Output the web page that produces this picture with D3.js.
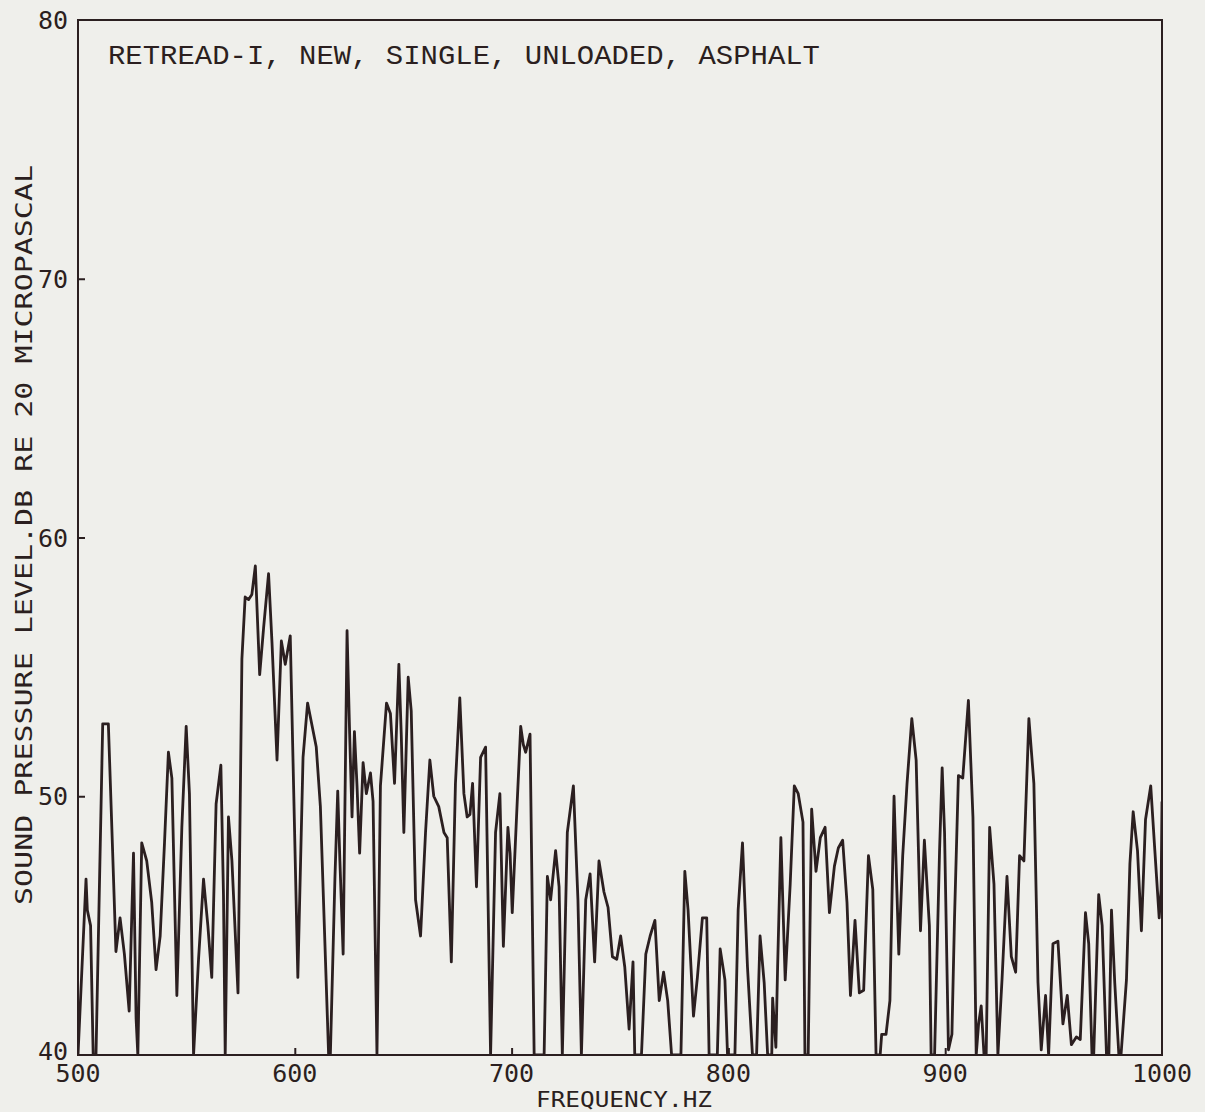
<!DOCTYPE html>
<html>
<head>
<meta charset="utf-8">
<script src="https://cdn.jsdelivr.net/npm/d3@7"></script>
<style>
  body { margin: 0; background: #efefeb; }
  svg { display: block; }
</style>
</head>
<body>
<script>
// spectrum trace
const freq = [500, 503.7, 504.3, 505.8, 507, 508.3, 511.4, 514, 515.6, 517.5, 519.4, 521.4, 523.6, 525.6, 526.8, 527.6,
  529.4, 531.7, 534, 536, 537.9, 539.9, 541.7, 543.3, 545.6, 547.9, 549.9, 551.4, 553.3, 555.6, 557.9, 559.9,
  561.7, 563.7, 565.9, 567.1, 567.9, 569.4, 571, 573.8, 575.6, 577.1, 578.7, 580.2, 581.8, 583.8, 585.6, 587.9,
  589.5, 591.8, 593.8, 595.6, 597.9, 601.4, 603.8, 605.9, 609.9, 611.8, 615.6, 616.4, 618.5, 619.8, 620.8, 622.3,
  624.1, 625.3, 626.4, 627.5, 628.7, 629.9, 631.5, 633, 634.9, 636.1, 637.9, 639.5, 642.3, 644.1, 646, 648,
  649.1, 650.3, 652.3, 653.7, 655.7, 658, 660.3, 662.3, 664.1, 666.4, 668.8, 670.3, 672.2, 674.1, 676.1, 678,
  679.5, 680.8, 682, 682.6, 683.8, 685.7, 688, 690.3, 692.6, 694.6, 696.2, 698.3, 699.3, 700.3, 702.6, 704.2,
  705.4, 706.5, 708.5, 710.4, 715, 716.5, 718, 720.3, 721.9, 723.4, 725.7, 728.5, 730.6, 732.2, 734.2, 736.2,
  738.3, 740.3, 742.6, 744.5, 746.5, 748.5, 750.3, 752.2, 754.2, 756, 756.8, 759.9, 761.9, 763.9, 766.1, 768.1,
  770.1, 772, 773.8, 778.1, 779.9, 781.4, 783.9, 785.7, 788, 790, 791.1, 794.9, 796.2, 798.4, 799.6, 803,
  804.5, 806.5, 807.6, 808.8, 811.1, 813, 814.6, 816.5, 818.1, 820, 820.4, 821.9, 822.7, 824.2, 826.2, 828.5,
  830.4, 832.2, 834.4, 835.3, 836.8, 838.4, 840.4, 842.4, 844.6, 846.6, 848.9, 850.7, 852.7, 854.7, 856.3, 858.4,
  860.4, 862.4, 864.6, 866.6, 868.1, 870, 870.7, 872.7, 874.5, 876.4, 878.6, 880.4, 882.4, 884.6, 886.6, 888.6,
  890.4, 892.7, 893.5, 895.1, 897.4, 898.6, 899.7, 901.5, 903.1, 904.3, 906.1, 908.1, 910.7, 912.8, 914.3, 915.4,
  916.6, 917.9, 918.9, 920.5, 922.5, 924.3, 926.2, 928.5, 930.5, 932.5, 934.3, 936.3, 938.6, 940.9, 942.8, 944.3,
  946.3, 947.7, 949.7, 952, 954.3, 956.3, 958.2, 960.5, 962.3, 964.7, 966.2, 967.7, 968.5, 970.8, 972.4, 974.4,
  975.5, 976.7, 978.2, 980.1, 981.1, 983.6, 985.2, 986.7, 988.7, 990.5, 992.4, 994.8, 996.7, 998.7, 999.6, 1000];
const level = [40, 46.8, 45.6, 45, 40, 40, 52.8, 52.8, 48.8, 44.0, 45.3, 43.9, 41.7, 47.8, 41.4, 40,
  48.2, 47.5, 45.9, 43.3, 44.6, 48.2, 51.7, 50.7, 42.3, 48.8, 52.7, 50.1, 40, 43.7, 46.8, 45,
  43, 49.7, 51.2, 46.2, 40, 49.2, 47.5, 42.4, 55.3, 57.7, 57.6, 57.8, 58.9, 54.7, 56.5, 58.6,
  55.9, 51.4, 56.0, 55.1, 56.2, 43.0, 51.5, 53.6, 51.9, 49.6, 40, 40, 46.8, 50.2, 47.5, 43.9,
  56.4, 52.4, 49.2, 52.5, 50.4, 47.8, 51.3, 50.1, 50.9, 49.8, 40, 50.4, 53.6, 53.2, 50.5, 55.1,
  52.4, 48.6, 54.6, 53.3, 46, 44.6, 48.6, 51.4, 50, 49.6, 48.6, 48.4, 43.6, 50.5, 53.8, 50.1,
  49.2, 49.3, 50.5, 49.2, 46.5, 51.5, 51.9, 40, 48.6, 50.1, 44.2, 48.8, 47.8, 45.5, 49.8, 52.7,
  52.0, 51.7, 52.4, 40, 40, 46.9, 46, 47.9, 46.5, 40, 48.6, 50.4, 46, 40, 46, 47,
  43.6, 47.5, 46.3, 45.7, 43.8, 43.7, 44.6, 43.4, 41, 43.6, 40, 40, 43.9, 44.6, 45.2, 42.1,
  43.2, 42.1, 40, 40, 47.1, 45.6, 41.5, 43.0, 45.3, 45.3, 40, 40, 44.1, 42.9, 40, 40,
  45.6, 48.2, 45.9, 43.4, 40, 40, 44.6, 42.8, 40, 40, 42.2, 40.3, 43.4, 48.4, 42.9, 46.6,
  50.4, 50.1, 49, 40, 40, 49.5, 47.1, 48.4, 48.8, 45.5, 47.3, 48, 48.3, 45.9, 42.3, 45.2,
  42.4, 42.5, 47.7, 46.4, 40, 40, 40.8, 40.8, 42.1, 50, 43.9, 47.7, 50.5, 53.0, 51.4, 44.8,
  48.3, 45, 40, 40, 47.9, 51.1, 48.6, 40.2, 40.8, 45.3, 50.8, 50.7, 53.7, 49.2, 40, 41.2,
  41.9, 40, 40, 48.8, 46.6, 40, 42.9, 46.9, 43.8, 43.2, 47.7, 47.5, 53, 50.5, 42.8, 40.2,
  42.3, 40, 44.3, 44.4, 41.2, 42.3, 40.4, 40.7, 40.6, 45.5, 44.3, 40, 40, 46.2, 45, 40,
  40, 45.6, 42.8, 40, 40, 42.9, 47.4, 49.4, 47.9, 44.8, 49.1, 50.4, 47.9, 45.3, 46.4, 49.8];

const xTicks = [500, 600, 700, 800, 900, 1000];
const yTicks = [40, 50, 60, 70, 80];
const title = "RETREAD-I, NEW, SINGLE, UNLOADED, ASPHALT";
const xTitle = "FREQUENCY.HZ";
const yTitle = "SOUND PRESSURE LEVEL.DB RE 20 MICROPASCAL";

var width = 1205, height = 1112;
var plotL = 78, plotR = 1162, plotT = 20, plotB = 1055;
var ink = "#2b1f20";

var svg = d3.select("body").append("svg")
  .attr("width", width)
  .attr("height", height);

var x = d3.scaleLinear().domain([500, 1000]).range([plotL, plotR]);
var y = d3.scaleLinear().domain([40, 80]).range([plotB, plotT]);

svg.append("defs").append("clipPath").attr("id", "plot")
  .append("rect").attr("x", plotL).attr("y", plotT)
  .attr("width", plotR - plotL).attr("height", plotB - plotT);

// the trace
svg.append("path")
  .datum(d3.zip(freq, level))
  .attr("clip-path", "url(#plot)")
  .attr("fill", "none")
  .attr("stroke", ink)
  .attr("stroke-width", 2.8)
  .attr("stroke-linejoin", "round")
  .attr("d", d3.line().x(d => x(d[0])).y(d => y(d[1])));

// frame
svg.append("rect")
  .attr("x", plotL).attr("y", plotT)
  .attr("width", plotR - plotL).attr("height", plotB - plotT)
  .attr("fill", "none").attr("stroke", ink).attr("stroke-width", 2);

// inward ticks, labels placed by hand below
svg.append("g")
  .attr("transform", `translate(0,${plotB})`)
  .call(d3.axisTop(x).tickValues(xTicks.slice(1, -1)).tickSize(7).tickFormat(""))
  .call(g => g.select(".domain").remove())
  .call(g => g.selectAll("line").attr("stroke", ink).attr("stroke-width", 2));
svg.append("g")
  .attr("transform", `translate(${plotL},0)`)
  .call(d3.axisRight(y).tickValues(yTicks.slice(1, -1)).tickSize(7).tickFormat(""))
  .call(g => g.select(".domain").remove())
  .call(g => g.selectAll("line").attr("stroke", ink).attr("stroke-width", 2));

var labelFont = "'DejaVu Sans Mono', monospace";

svg.append("g").selectAll("text")
  .data(xTicks)
  .join("text")
    .attr("x", d => x(d))
    .attr("y", plotB + 27)
    .attr("text-anchor", "middle")
    .attr("font-family", labelFont)
    .attr("font-size", 25)
    .attr("fill", ink)
    .text(d => d);

svg.append("g").selectAll("text")
  .data(yTicks)
  .join("text")
    .attr("x", plotL - 10)
    .attr("y", d => d == 40 ? y(d) + 5 : y(d) + 9)
    .attr("text-anchor", "end")
    .attr("font-family", labelFont)
    .attr("font-size", 25)
    .attr("fill", ink)
    .text(d => d);

svg.append("text")
  .attr("x", (x(500) + x(1000)) / 2 + 4)
  .attr("y", 1107)
  .attr("text-anchor", "middle")
  .attr("font-family", labelFont)
  .attr("font-size", 22)
  .attr("textLength", 176)
  .attr("lengthAdjust", "spacingAndGlyphs")
  .attr("fill", ink)
  .text(xTitle);

svg.append("text")
  .attr("transform", "translate(32,535) rotate(-90)")
  .attr("text-anchor", "middle")
  .attr("font-family", labelFont)
  .attr("font-size", 23)
  .attr("textLength", 740)
  .attr("lengthAdjust", "spacingAndGlyphs")
  .attr("fill", ink)
  .text(yTitle);

svg.append("text")
  .attr("x", 108)
  .attr("y", 64)
  .attr("font-family", "'Liberation Mono', monospace")
  .attr("font-size", 28)
  .attr("textLength", 712)
  .attr("lengthAdjust", "spacingAndGlyphs")
  .attr("fill", ink)
  .text(title);
</script>
</body>
</html>
